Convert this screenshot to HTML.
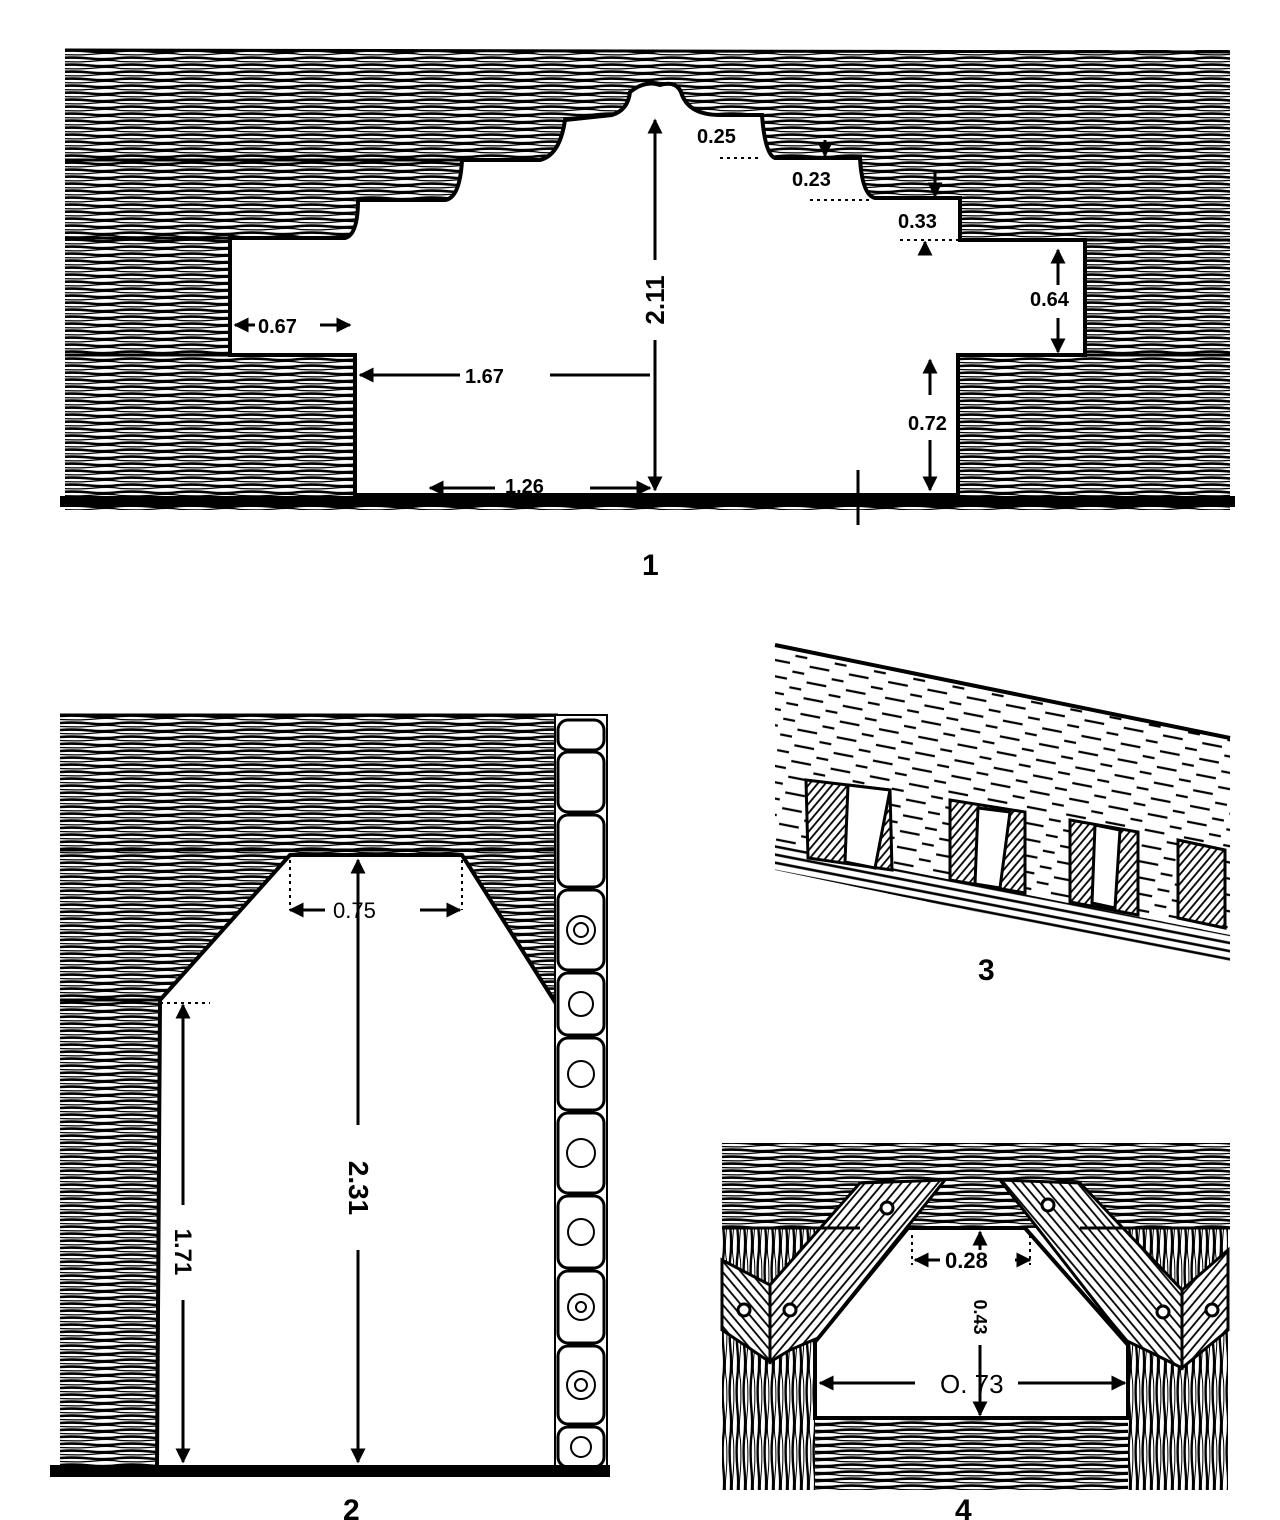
<!DOCTYPE html>
<html><head><meta charset="utf-8"><style>
html,body{margin:0;padding:0;background:#fff}
svg{display:block}
text{font-family:"Liberation Sans",sans-serif;font-weight:bold;fill:#000}
</style></head><body>
<svg width="1280" height="1520" viewBox="0 0 1280 1520" xmlns="http://www.w3.org/2000/svg">
<defs>
<pattern id="hg" width="60" height="7" patternUnits="userSpaceOnUse">
<rect width="60" height="7" fill="#fff"/>
<path d="M0 2 Q15 1 30 2.5 T60 2" stroke="#000" stroke-width="2.6" fill="none"/>
<path d="M0 5.5 Q20 6.5 35 5 T60 5.5" stroke="#000" stroke-width="1.2" fill="none"/>
</pattern>
<pattern id="vg" width="7" height="60" patternUnits="userSpaceOnUse">
<rect width="7" height="60" fill="#fff"/>
<path d="M2 0 Q1 15 2.5 30 T2 60" stroke="#000" stroke-width="2.4" fill="none"/>
<path d="M5.5 0 Q6.5 20 5 35 T5.5 60" stroke="#000" stroke-width="1" fill="none"/>
</pattern>
<pattern id="dg" width="40" height="16" patternUnits="userSpaceOnUse" patternTransform="rotate(11)">
<rect width="40" height="16" fill="#fff"/>
<path d="M2 4 H22 M26 12 H38" stroke="#000" stroke-width="2.2"/>
</pattern>
<pattern id="bg" width="8" height="8" patternUnits="userSpaceOnUse" patternTransform="rotate(11)">
<rect width="8" height="8" fill="#fff"/>
<path d="M0 3 H8" stroke="#000" stroke-width="2.6"/>
</pattern>
<pattern id="hatch" width="6" height="6" patternUnits="userSpaceOnUse" patternTransform="rotate(-50)">
<rect width="6" height="6" fill="#fff"/><path d="M0 2 H6" stroke="#000" stroke-width="1.8"/>
</pattern>
<pattern id="br1" width="7" height="60" patternUnits="userSpaceOnUse" patternTransform="rotate(40)">
<rect width="7" height="60" fill="#fff"/><path d="M2 0 V60" stroke="#000" stroke-width="1.8"/></pattern>
<pattern id="br2" width="7" height="60" patternUnits="userSpaceOnUse" patternTransform="rotate(-40)">
<rect width="7" height="60" fill="#fff"/><path d="M2 0 V60" stroke="#000" stroke-width="1.8"/></pattern>
<marker id="ar" viewBox="0 0 10 10" refX="9" refY="5" markerWidth="5" markerHeight="5" orient="auto-start-reverse"><path d="M0 0 L10 5 L0 10 z" fill="#000"/></marker>
</defs>

<!-- FIGURE 1 -->
<rect x="65" y="50" width="1165" height="460" fill="url(#hg)"/>
<g stroke="#000" stroke-width="3">
<line x1="65" y1="50" x2="1230" y2="52"/>
<line x1="65" y1="160" x2="460" y2="160"/><line x1="65" y1="238" x2="230" y2="238"/><line x1="65" y1="355" x2="230" y2="355"/>
<line x1="960" y1="240" x2="1230" y2="240"/><line x1="1085" y1="355" x2="1230" y2="355"/>
</g>
<path d="M355 495 L355 355 L230 355 L230 238 L345 238 Q358 235 358 200 L445 200 Q460 198 462 160 L540 160 Q560 155 565 120 L612 115 Q628 110 630 92 Q645 80 660 85 Q678 80 682 95 Q690 115 720 115 L762 115 Q765 155 775 158 L860 158 Q862 195 875 198 L960 198 L960 240 L1085 240 L1085 355 L958 355 L958 495 Z" fill="#fff" stroke="#000" stroke-width="4"/>
<rect x="60" y="496" width="1175" height="11" fill="#000"/>
<g stroke="#000" stroke-width="3" fill="none">
<line x1="655" y1="120" x2="655" y2="260" marker-start="url(#ar)"/><line x1="655" y1="340" x2="655" y2="490" marker-end="url(#ar)"/>
<line x1="360" y1="375" x2="460" y2="375" marker-start="url(#ar)"/><line x1="550" y1="375" x2="650" y2="375"/>
<line x1="430" y1="488" x2="495" y2="488" marker-start="url(#ar)"/><line x1="590" y1="488" x2="650" y2="488" marker-end="url(#ar)"/>
<line x1="235" y1="325" x2="255" y2="325" marker-start="url(#ar)"/><line x1="320" y1="325" x2="350" y2="325" marker-end="url(#ar)"/>
<line x1="1058" y1="250" x2="1058" y2="285" marker-start="url(#ar)"/><line x1="1058" y1="318" x2="1058" y2="352" marker-end="url(#ar)"/>
<line x1="930" y1="360" x2="930" y2="395" marker-start="url(#ar)"/><line x1="930" y1="440" x2="930" y2="490" marker-end="url(#ar)"/>
<line x1="825" y1="140" x2="825" y2="156" marker-end="url(#ar)"/>
<line x1="935" y1="170" x2="935" y2="196" marker-end="url(#ar)"/>
<line x1="925" y1="255" x2="925" y2="242" marker-end="url(#ar)"/>
<line x1="858" y1="470" x2="858" y2="525"/>
</g>
<path d="M720 158 H760 M810 200 H870 M900 240 H960" stroke="#000" stroke-width="2" stroke-dasharray="3 4"/>
<g font-size="20">
<text x="258" y="333">0.67</text>
<text x="465" y="383">1.67</text>
<text x="505" y="493">1.26</text>
<text x="697" y="143">0.25</text>
<text x="792" y="186">0.23</text>
<text x="898" y="228">0.33</text>
<text x="1030" y="306">0.64</text>
<text x="908" y="430">0.72</text>
<text x="828" y="505" font-size="16">0.02</text>
<text x="0" y="0" transform="translate(664 300) rotate(-90)" text-anchor="middle" font-size="26">2.11</text>
<text x="642" y="575" font-size="30">1</text>
</g>

<!-- FIGURE 2 -->
<rect x="60" y="715" width="498" height="760" fill="url(#hg)"/>
<g stroke="#000" stroke-width="3"><line x1="60" y1="850" x2="558" y2="850"/><line x1="60" y1="715" x2="558" y2="715"/><line x1="60" y1="1000" x2="160" y2="1000"/></g>
<path d="M157 1468 L160 1000 L290 855 L462 855 L560 1010 L560 1468 Z" fill="#fff" stroke="#000" stroke-width="4"/>
<rect x="555" y="715" width="52" height="758" fill="#fff" stroke="#000" stroke-width="2"/>
<g fill="#fff" stroke="#000" stroke-width="3">
<rect x="558" y="720" width="46" height="30" rx="10"/><rect x="558" y="752" width="46" height="60" rx="10"/>
<rect x="558" y="815" width="46" height="72" rx="10"/><rect x="558" y="890" width="46" height="80" rx="10"/>
<rect x="558" y="973" width="46" height="62" rx="10"/><rect x="558" y="1038" width="46" height="72" rx="10"/>
<rect x="558" y="1113" width="46" height="80" rx="10"/><rect x="558" y="1196" width="46" height="72" rx="10"/>
<rect x="558" y="1271" width="46" height="72" rx="10"/><rect x="558" y="1346" width="46" height="78" rx="10"/>
<rect x="558" y="1427" width="46" height="40" rx="10"/>
</g>
<g fill="none" stroke="#000" stroke-width="2">
<circle cx="581" cy="930" r="14"/><circle cx="581" cy="930" r="7"/><circle cx="581" cy="1004" r="12"/><circle cx="581" cy="1074" r="13"/><circle cx="581" cy="1153" r="14"/><circle cx="581" cy="1232" r="13"/><circle cx="581" cy="1307" r="13"/><circle cx="581" cy="1307" r="5"/><circle cx="581" cy="1385" r="14"/><circle cx="581" cy="1385" r="6"/><circle cx="581" cy="1447" r="10"/>
</g>
<rect x="50" y="1465" width="560" height="12" fill="#000"/>
<path d="M290 860 V910 M462 860 V910 M160 1003 H210" stroke="#000" stroke-width="2" stroke-dasharray="3 4"/>
<g stroke="#000" stroke-width="3" fill="none">
<line x1="290" y1="910" x2="325" y2="910" marker-start="url(#ar)"/><line x1="420" y1="910" x2="460" y2="910" marker-end="url(#ar)"/>
<line x1="358" y1="860" x2="358" y2="1125" marker-start="url(#ar)"/><line x1="358" y1="1250" x2="358" y2="1462" marker-end="url(#ar)"/>
<line x1="183" y1="1005" x2="183" y2="1205" marker-start="url(#ar)"/><line x1="183" y1="1300" x2="183" y2="1462" marker-end="url(#ar)"/>
</g>
<g font-size="22">
<text x="333" y="918" style="font-weight:normal">0.75</text>
<text x="0" y="0" transform="translate(349 1188) rotate(90)" text-anchor="middle" font-size="28">2.31</text>
<text x="0" y="0" transform="translate(175 1252) rotate(90)" text-anchor="middle" font-size="24">1.71</text>
<text x="343" y="1520" font-size="30">2</text>
</g>

<!-- FIGURE 3 -->
<path d="M775 645 L1230 735 L1230 965 L775 870 Z" fill="url(#dg)"/>
<path d="M775 845 L1230 935 L1230 965 L775 870 Z" fill="url(#bg)"/>
<line x1="775" y1="645" x2="1230" y2="738" stroke="#000" stroke-width="4"/>
<g stroke="#000" stroke-width="3">
<path d="M806 780 L890 790 L892 870 L808 858 Z" fill="url(#hatch)"/>
<path d="M950 800 L1025 812 L1025 893 L950 880 Z" fill="url(#hatch)"/>
<path d="M1070 820 L1138 832 L1138 915 L1070 902 Z" fill="url(#hatch)"/>
<path d="M1178 840 L1225 850 L1225 928 L1178 918 Z" fill="url(#hatch)"/>
<path d="M848 785 L890 790 L875 868 L845 862 Z" fill="#fff"/>
<path d="M978 808 L1010 812 L1000 888 L975 884 Z" fill="#fff"/>
<path d="M1095 825 L1120 830 L1115 908 L1092 903 Z" fill="#fff"/>
</g>
<text x="978" y="980" font-size="30">3</text>

<!-- FIGURE 4 -->
<rect x="722" y="1143" width="508" height="85" fill="url(#hg)"/>
<rect x="815" y="1418" width="313" height="72" fill="url(#hg)"/>
<rect x="722" y="1228" width="93" height="262" fill="url(#vg)"/>
<rect x="1128" y="1228" width="100" height="262" fill="url(#vg)"/>
<path d="M815 1342 L908 1228 L1025 1228 L1128 1345 L1128 1418 L815 1418 Z" fill="#fff" stroke="#000" stroke-width="4"/>
<g stroke="#000" stroke-width="3">
<path d="M860 1183 L945 1180 L818 1338 L790 1350 L770 1362 L770 1285 Z" fill="url(#br1)"/>
<path d="M722 1260 L770 1285 L770 1362 L722 1330 Z" fill="url(#br2)"/>
<path d="M1000 1180 L1080 1183 L1182 1290 L1182 1368 L1150 1352 L1125 1340 Z" fill="url(#br2)"/>
<path d="M1228 1250 L1182 1290 L1182 1368 L1228 1330 Z" fill="url(#br1)"/>
<line x1="722" y1="1228" x2="860" y2="1228"/><line x1="1080" y1="1228" x2="1230" y2="1228"/>
</g>
<g fill="#fff" stroke="#000" stroke-width="3">
<circle cx="887" cy="1208" r="6"/><circle cx="1048" cy="1205" r="6"/><circle cx="744" cy="1310" r="6"/><circle cx="790" cy="1310" r="6"/><circle cx="1163" cy="1312" r="6"/><circle cx="1212" cy="1310" r="6"/>
</g>
<path d="M912 1235 V1265 M1030 1235 V1265" stroke="#000" stroke-width="2" stroke-dasharray="3 4"/>
<g stroke="#000" stroke-width="3" fill="none">
<line x1="915" y1="1260" x2="940" y2="1260" marker-start="url(#ar)"/><line x1="1015" y1="1260" x2="1030" y2="1260" marker-end="url(#ar)"/>
<line x1="980" y1="1232" x2="980" y2="1250" marker-start="url(#ar)"/><line x1="980" y1="1345" x2="980" y2="1415" marker-end="url(#ar)"/>
<line x1="820" y1="1383" x2="915" y2="1383" marker-start="url(#ar)"/><line x1="1018" y1="1383" x2="1125" y2="1383" marker-end="url(#ar)"/>
</g>
<g font-size="22">
<text x="945" y="1268">0.28</text>
<text x="0" y="0" transform="translate(974 1317) rotate(90)" text-anchor="middle" font-size="18">0.43</text>
<text x="940" y="1393" font-size="26" style="font-weight:normal">O. 73</text>
<text x="955" y="1520" font-size="30">4</text>
</g>
</svg>
</body></html>
